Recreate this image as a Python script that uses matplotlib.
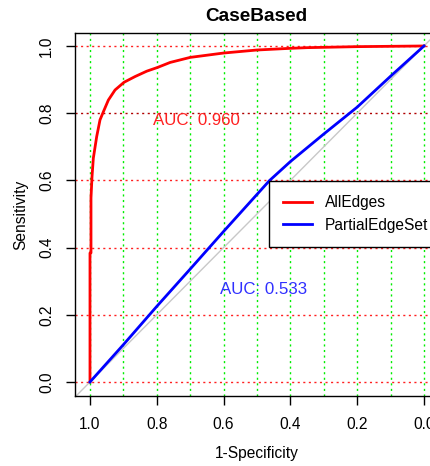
import matplotlib
matplotlib.use("Agg")
import matplotlib.pyplot as plt
import numpy as np

plt.rcParams['font.family'] = ['Liberation Sans', 'DejaVu Sans']

# Data
title = "CaseBased"
series_names = ["AllEdges", "PartialEdgeSet"]
all_spec = [1.0, 1.0, 0.997, 0.997, 0.994, 0.99, 0.98, 0.97, 0.96, 0.945, 0.925,
            0.898, 0.865, 0.83, 0.798, 0.76, 0.70, 0.60, 0.50, 0.40, 0.35, 0.20, 0.0]
all_sens = [0.0, 0.384, 0.384, 0.548, 0.61, 0.666, 0.73, 0.78, 0.804, 0.839, 0.869,
            0.892, 0.909, 0.925, 0.936, 0.951, 0.966, 0.979, 0.988, 0.993, 0.995, 0.998, 1.0]
part_spec = [1.0, 0.9, 0.8, 0.7, 0.6, 0.463, 0.4, 0.3, 0.2, 0.1, 0.0]
part_sens = [0.0, 0.111, 0.225, 0.336, 0.448, 0.599, 0.656, 0.738, 0.818, 0.91, 1.0]
auc_labels = ["AUC: 0.960", "AUC: 0.533"]
auc_pos = [(0.68, 0.778), (0.479, 0.275)]
ticks = [1.0, 0.8, 0.6, 0.4, 0.2, 0.0]
tick_labels = ["1.0", "0.8", "0.6", "0.4", "0.2", "0.0"]

fig = plt.figure(figsize=(4.30, 4.66), dpi=100)
ax = fig.add_axes([0.1751, 0.1496, 0.842, 0.779])
ax.set_xlim(1.044, -0.04)
ax.set_ylim(-0.0426, 1.0378)

# grid
for v in np.arange(0, 1.01, 0.1):
    ax.axvline(v, color='#00ee00', lw=1.0, ls=(0, (1.5, 2.5)), zorder=1)
for h in np.arange(0, 1.01, 0.2):
    c = '#b00000' if abs(h - 0.8) < 1e-6 else '#ff2020'
    ax.axhline(h, color=c, lw=1.0, ls=(0, (1.5, 2.5)), zorder=1)

# diagonal
ax.plot([1.1, -0.1], [-0.1, 1.1], color='#c8c8c8', lw=1.0, zorder=2)

ax.plot(all_spec, all_sens, color='#ff0000', lw=2.0, label=series_names[0], zorder=3)
ax.plot(part_spec, part_sens, color='#0000ff', lw=2.0, label=series_names[1], zorder=3)

ax.text(*auc_pos[0], auc_labels[0], color='#ff2020', fontsize=12.2, ha='center', va='center', zorder=4)
ax.text(*auc_pos[1], auc_labels[1], color='#3030ff', fontsize=12.2, ha='center', va='center', zorder=4)

ax.set_xticks(ticks)
ax.set_xticklabels(tick_labels)
ax.set_yticks(ticks)
ax.set_yticklabels(tick_labels)
ax.tick_params(axis='both', length=6.2, width=1, labelsize=11.2, direction='out')
ax.tick_params(axis='x', pad=9)
ax.tick_params(axis='y', pad=9, labelrotation=90)
for lab in ax.get_yticklabels():
    lab.set_va('center')

for s in ax.spines.values():
    s.set_color('black')
    s.set_linewidth(1.0)

ax.set_title(title, fontsize=13.7, fontweight='bold', pad=9)
ax.set_xlabel("1-Specificity", fontsize=11.2, labelpad=10)
ax.set_ylabel("Sensitivity", fontsize=11.2, labelpad=8)

leg = ax.legend(loc='upper left', bbox_to_anchor=(0.535, 0.593), borderaxespad=0,
                fontsize=11.2, frameon=True, fancybox=False, edgecolor='black',
                framealpha=1, handlelength=1.85, handletextpad=0.83,
                borderpad=0.9, labelspacing=0.5)
leg.get_frame().set_linewidth(1.0)
leg.set_zorder(5)

fig.savefig("out.png", dpi=100)
